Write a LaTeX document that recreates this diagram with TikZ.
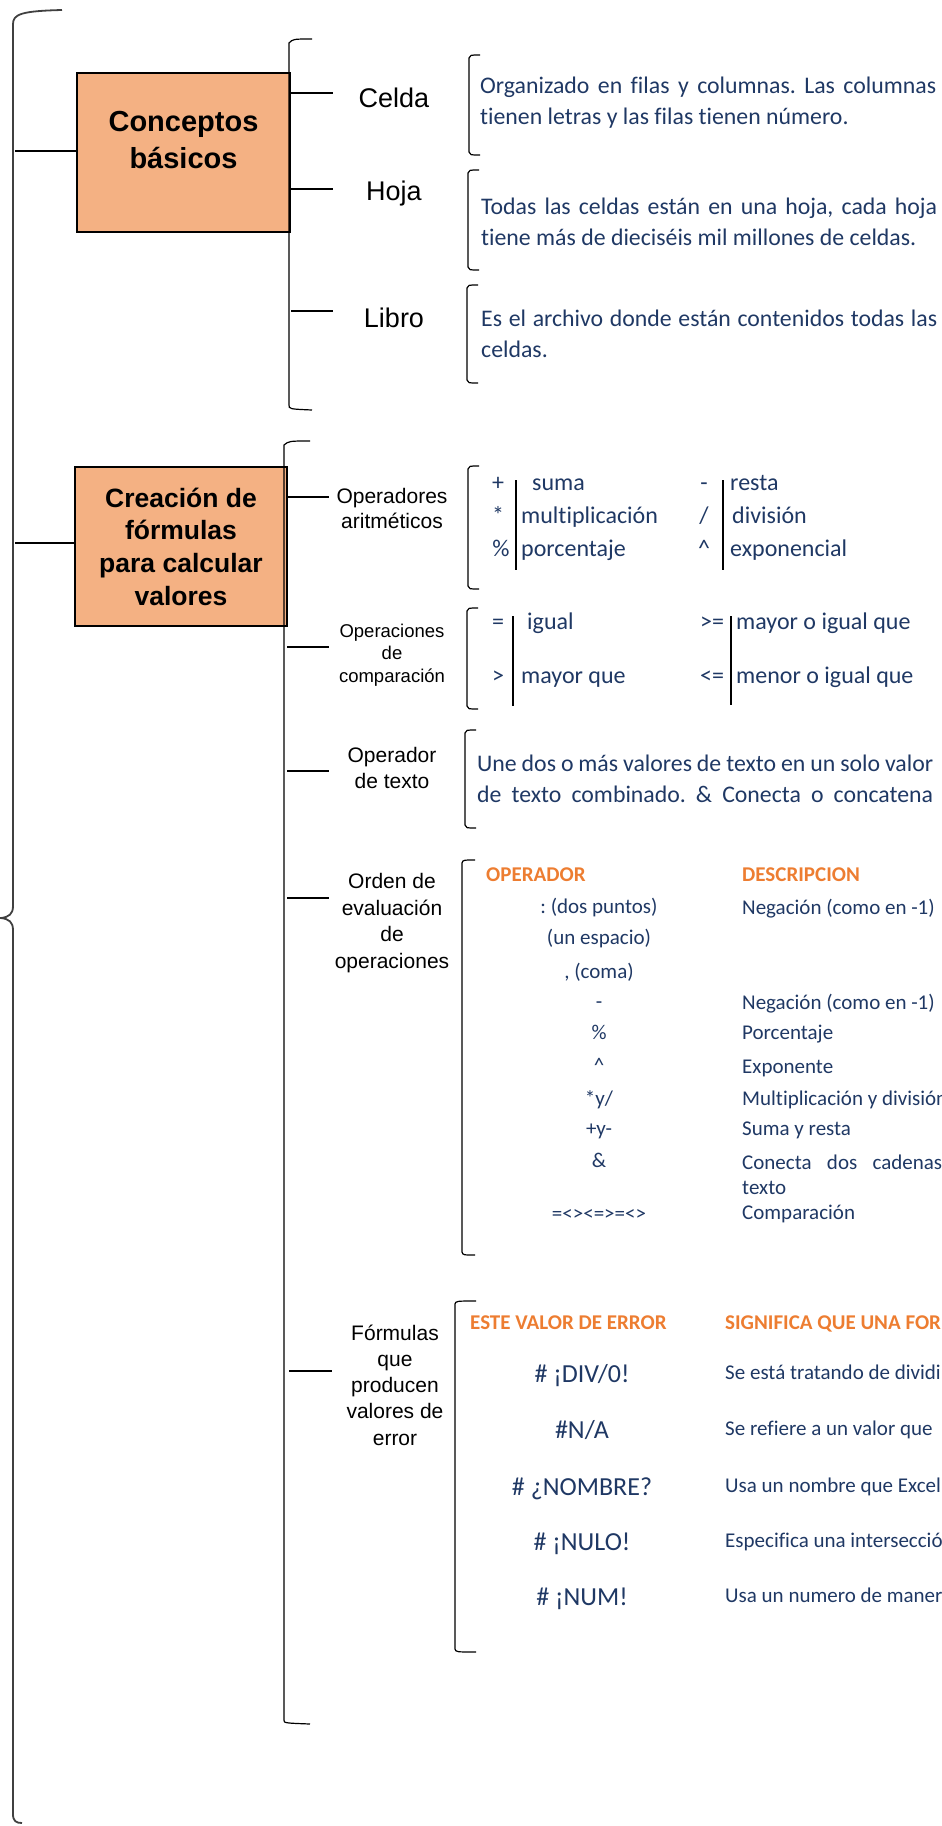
\documentclass[tikz,border=0pt]{standalone}
\usepackage{fontspec}
\setmainfont{Liberation Sans}
\newfontfamily\calibri[Ligatures={NoCommon}]{Carlito}
\usepackage{tikz}
\usetikzlibrary{
  positioning,
  calc
}
\tikzset{
  every node/.style={inner sep=0pt}
}
\frenchspacing
\definecolor{boxOrange}{RGB}{244, 177, 131}
\definecolor{textNavy}{RGB}{31, 56, 100}
\definecolor{headOrange}{RGB}{237, 125, 49}
\definecolor{braceGray}{RGB}{64, 64, 64}
\newcommand{\sqbrack}[4]{%
  \draw[brk] (#1+#4,#2) .. controls (#1+1,#2) .. (#1,#2+3) -- (#1,#3-3) .. controls (#1+1,#3) .. (#1+#4,#3);}

\begin{document}
\begin{tikzpicture}[
    x=1pt, y=-1pt,
    box/.style={rectangle, draw=black, line width=2.6pt, fill=boxOrange, minimum width=213pt, minimum height=159pt, align=center},
    topic/.style={font=\fontsize{27}{32}\selectfont, minimum width=122pt},
    subtopic/.style={font=\fontsize{21}{26}\selectfont, align=center, minimum width=126pt},
    para/.style={font=\calibri\fontsize{23.8}{31}\selectfont, text=textNavy, anchor=west, align=left},
    sym/.style={font=\calibri\fontsize{24}{29}\selectfont, text=textNavy, text height=0.62em, text depth=0.12em},
    cell/.style={font=\calibri\fontsize{21}{26}\selectfont, text=textNavy, text height=0.62em, text depth=0.12em},
    head/.style={font=\calibri\bfseries\fontsize{21}{26}\selectfont, text=headOrange, anchor=west, text height=0.62em, text depth=0.12em},
    errcode/.style={font=\calibri\fontsize{26}{31}\selectfont, text=textNavy, text height=0.62em, text depth=0.12em},
    conn/.style={line width=1.2pt},
    brk/.style={line width=1.2pt},
    bigbrace/.style={draw=braceGray, line width=1.8pt}
]
    \clip (0,0) rectangle (942,1826);

    % outer brace
    \draw[bigbrace] (62,10) .. controls (22,11) and (13,14) .. (13,24) -- (13,906)
        .. controls (13,914) and (9,917) .. (1,918) .. controls (9,919) and (13,922) .. (13,930)
        -- (13,1814) .. controls (13,1821) and (16,1823) .. (22,1823);

    \node[box] (conceptos) at (183.5,152.5) {};
    \node[font=\bfseries\fontsize{29}{37}\selectfont, align=center] (conceptosT) at (183.5,140) {Conceptos\\básicos};
    \node[box, minimum width=212pt, font=\bfseries\fontsize{26.5}{32.7}\selectfont] (creacion) at (181,546.5) {Creación de\\fórmulas\\para calcular\\valores};

    \coordinate (toConceptos) at (15,151);
    \coordinate (toCreacion) at (15,543);
    \draw[conn] (toConceptos) -- (toConceptos -| conceptos.west);
    \draw[conn] (toCreacion) -- (toCreacion -| creacion.west);

    % braces of the two topics
    \draw[brk] (312,39) .. controls (293,39) .. (289,43) -- (289,405) .. controls (289,409) .. (312,410);
    \draw[brk] (310,441) .. controls (289,441) .. (284,445) -- (284,1720) .. controls (284,1723) .. (310,1724);

    % Conceptos basicos
    \node[topic] (celda) at (394,98) {Celda};
    \node[topic] (hoja) at (394,194) {Hoja};
    \node[topic] (libro) at (394,318) {Libro};

    \coordinate (celdaC) at (291,93);
    \coordinate (hojaC) at (290,189);
    \coordinate (libroC) at (291,311);
    \draw[conn] (celdaC) -- (celdaC -| celda.west);
    \draw[conn] (hojaC) -- (hojaC -| hoja.west);
    \draw[conn] (libroC) -- (libroC -| libro.west);

    \sqbrack{469}{55}{155}{11}
    \sqbrack{468}{170}{270}{11}
    \sqbrack{467}{285}{383}{11}

    \node[para] (celdaTxt) at (480,102.5) {\makebox[456pt][s]{Organizado en filas y columnas. Las columnas}\\tienen letras y las filas tienen número.};
    \node[para] (hojaTxt) at (481,221.5) {\makebox[456pt][s]{Todas las celdas están en una hoja, cada hoja}\\tiene más de dieciséis mil millones de celdas.};
    \node[para] (libroTxt) at (481,334) {\makebox[456pt][s]{Es el archivo donde están contenidos todas las}\\celdas.};

    % Creacion de formulas
    \node[subtopic, font=\fontsize{21}{25}\selectfont] (arit) at (392,508) {Operadores\\aritméticos};
    \node[subtopic, font=\fontsize{18.5}{22.5}\selectfont] (compar) at (392,655) {Operaciones\\de\\comparación};
    \node[subtopic] (optexto) at (392,768) {Operador\\de texto};
    \node[subtopic, font=\fontsize{21}{26.7}\selectfont] (orden) at (392,923) {Orden de\\evaluación\\de\\operaciones};
    \node[subtopic, font=\fontsize{21}{26.3}\selectfont] (formulas) at (395,1385) {Fórmulas\\que\\producen\\valores de\\error};

    \coordinate (aritC) at (287,497);
    \coordinate (comparC) at (287,647);
    \coordinate (optextoC) at (287,771);
    \coordinate (ordenC) at (287,898);
    \coordinate (formulasC) at (289,1371);
    \draw[conn] (aritC) -- (aritC -| arit.west);
    \draw[conn] (comparC) -- (comparC -| compar.west);
    \draw[conn] (optextoC) -- (optextoC -| optexto.west);
    \draw[conn] (ordenC) -- (ordenC -| orden.west);
    \draw[conn] (formulasC) -- (formulasC -| formulas.west);

    \sqbrack{468}{466}{589}{11}
    \sqbrack{467}{608}{709}{11}
    \sqbrack{465}{730}{828}{11}
    \sqbrack{462}{860}{1255}{13}
    \sqbrack{455}{1301}{1652}{21}

    % operadores aritmeticos
    \node[sym] (opSuma) at (498,488) {+};
    \node[sym] (opMult) at (498,521) {*};
    \node[sym] (opPorc) at (501,554) {\%};
    \node[sym, anchor=west] (suma) at (532,488) {suma};
    \node[sym, anchor=west] (mult) at (521,521) {multiplicación};
    \node[sym, anchor=west] (porc) at (521,554) {porcentaje};
    \node[sym] (opResta) at (704,488) {-};
    \node[sym] (opDiv) at (704,521) {/};
    \node[sym] (opExp) at (704,554) {\^{}};
    \node[sym, anchor=west] (resta) at (730,488) {resta};
    \node[sym, anchor=west] (divi) at (732,521) {división};
    \node[sym, anchor=west] (expo) at (730,554) {exponencial};
    \draw[conn] (516,480) -- (516,570);
    \draw[conn] (723,480) -- (723,570);

    % operaciones de comparacion
    \node[sym] (opIgual) at (498,627) {=};
    \node[sym] (opMayor) at (498,681) {>};
    \node[sym, anchor=west] (igual) at (527,627) {igual};
    \node[sym, anchor=west] (mayor) at (521,681) {mayor que};
    \node[sym] (opMayIg) at (712,627) {>=};
    \node[sym] (opMenIg) at (712,681) {<=};
    \node[sym, anchor=west] (mayIg) at (736,627) {mayor o igual que};
    \node[sym, anchor=west] (menIg) at (736,681) {menor o igual que};
    \draw[conn] (513,616) -- (513,706);
    \draw[conn] (731,616) -- (731,705);

    % operador de texto
    \node[para] (textoTxt) at (477,778.5) {\makebox[456pt][s]{Une dos o más valores de texto en un solo valor}\\\makebox[456pt][s]{de texto combinado. \& Conecta o concatena}};

    % orden de evaluacion
    \node[head] (hOperador) at (486,879) {OPERADOR};
    \node[head] (hDescripcion) at (742,879) {DESCRIPCION};
    \node[cell] (oDosPuntos) at (599,911) {: (dos puntos)};
    \node[cell] (oEspacio) at (599,942) {(un espacio)};
    \node[cell] (oComa) at (599,976) {, (coma)};
    \node[cell] (oNeg) at (599,1006) {-};
    \node[cell] (oPorc) at (599,1037) {\%};
    \node[cell] (oExp) at (599,1070) {\^{}};
    \node[cell] (oMult) at (599,1103) {*y/};
    \node[cell] (oSuma) at (599,1133) {+y-};
    \node[cell] (oConc) at (599,1165) {\&};
    \node[cell] (oComp) at (599,1218) {=<><=>=<>};
    \node[cell, anchor=west] (dDosPuntos) at (742,912) {Negación (como en -1)};
    \node[cell, anchor=west] (dNeg) at (742,1007) {Negación (como en -1)};
    \node[cell, anchor=west] (dPorc) at (742,1037) {Porcentaje};
    \node[cell, anchor=west] (dExp) at (742,1071) {Exponente};
    \node[cell, anchor=west] (dMult) at (742,1103) {Multiplicación y división};
    \node[cell, anchor=west] (dSuma) at (742,1133) {Suma y resta};
    \node[cell, anchor=west] (dConc) at (742,1167) {\makebox[200pt][s]{Conecta dos cadenas}};
    \node[cell, anchor=west] (dConc2) at (742,1192) {texto};
    \node[cell, anchor=west] (dComp) at (742,1217) {Comparación};

    % valores de error
    \node[head] (hError) at (470,1327) {ESTE VALOR DE ERROR};
    \node[head] (hSignifica) at (725,1327) {SIGNIFICA QUE UNA FORMULA};
    \node[errcode] (eDiv) at (582,1380) {\# ¡DIV/0!};
    \node[errcode] (eNA) at (582,1436) {\#N/A};
    \node[errcode] (eNombre) at (582,1493) {\# ¿NOMBRE?};
    \node[errcode] (eNulo) at (582,1548) {\# ¡NULO!};
    \node[errcode] (eNum) at (582,1603) {\# ¡NUM!};
    \node[cell, anchor=west] (sDiv) at (725,1377) {Se está tratando de dividir};
    \node[cell, anchor=west] (sNA) at (725,1433) {Se refiere a un valor que};
    \node[cell, anchor=west] (sNombre) at (725,1490) {Usa un nombre que Excel};
    \node[cell, anchor=west] (sNulo) at (725,1545) {Especifica una intersección};
    \node[cell, anchor=west] (sNum) at (725,1600) {Usa un numero de manera};

\end{tikzpicture}
\end{document}
